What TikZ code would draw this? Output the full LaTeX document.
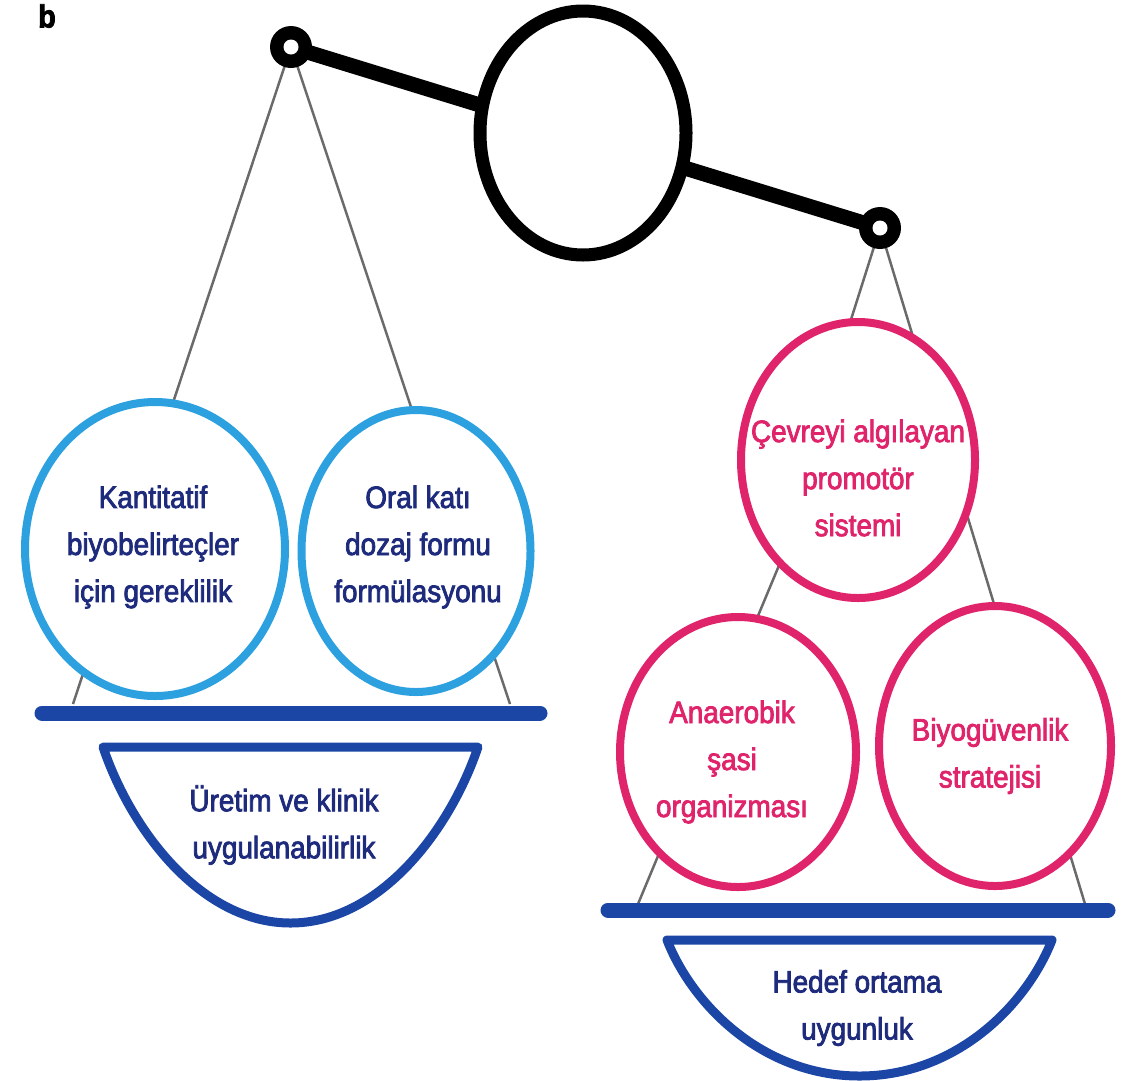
\documentclass[tikz,border=0pt]{standalone}
\usepackage{fontspec}
\setmainfont{Liberation Sans}[FakeStretch=0.9, FakeBold=2.5]
\usetikzlibrary{shapes.geometric}

\definecolor{cordgray}{HTML}{6A6A6A}
\definecolor{skyblue}{HTML}{2DA0DF}
\definecolor{rosepink}{HTML}{E0246B}
\definecolor{panblue}{HTML}{1C46A6}
\definecolor{navy}{HTML}{1E2A7C}

\newcommand\lbl{\fontsize{31}{47}\selectfont}

\tikzset{
  cord/.style={draw=cordgray, line width=2.5pt},
  ringouter/.style={circle, fill=black, inner sep=0pt},
  ringhole/.style={circle, fill=white, inner sep=0pt},
  bluebub/.style={ellipse, draw=skyblue, line width=8pt, fill=white, inner sep=0pt},
  pinkbub/.style={ellipse, draw=rosepink, line width=8pt, fill=white, inner sep=0pt},
  panbar/.style={draw=panblue, line width=15pt, line cap=round},
  bowl/.style={draw=panblue, line width=9pt, line join=round, fill=white},
  navytext/.style={text=navy, font=\lbl, align=center, inner sep=0pt},
  pinktext/.style={text=rosepink, font=\lbl, align=center, inner sep=0pt}
}

\begin{document}
\begin{tikzpicture}[x=1pt, y=-1pt]
\useasboundingbox (0,0) rectangle (1147,1080);

% panel letter
\node[font=\fontsize{32}{32}\selectfont\bfseries, anchor=center] (letter) at (47,16) {b};

% pivot points and cord ends
\coordinate (pl) at (291,47);
\coordinate (pr) at (880,228);
\coordinate (lcl) at (73,704);
\coordinate (lcr) at (510,704);
\coordinate (rtop) at (835,370);   % upper left cord ends inside the top bubble
\coordinate (rmid) at (800,515);   % lower left cord starts inside the top bubble
\coordinate (rcl) at (638,904);
\coordinate (rcr) at (1085,904);

% cords hanging from the pivots
\draw[cord] (pl) -- (lcl);
\draw[cord] (pl) -- (lcr);
\draw[cord] (pr) -- (rtop);
\draw[cord] (rmid) -- (rcl);
\draw[cord] (pr) -- (rcr);

% beam with the central ring
\draw[line width=15pt] (pl) -- (pr);
\node[ellipse, draw=black, line width=13pt, fill=white, inner sep=0pt,
      minimum width=206pt, minimum height=244pt] (hub) at (583,133) {};

% pivot rings
\node[ringouter, minimum size=42pt] (pivl) at (pl) {};
\node[ringhole, minimum size=15pt] (holel) at (pl) {};
\node[ringouter, minimum size=42pt] (pivr) at (pr) {};
\node[ringhole, minimum size=15pt] (holer) at (pr) {};

% left pan
\node[bluebub, minimum width=260pt, minimum height=294pt] (kant) at (155,549) {};
\node[bluebub, minimum width=229pt, minimum height=282pt] (oral) at (416,551) {};
\node[navytext] (kanttxt) at (153,547) {Kantitatif\\biyobelirteçler\\için gereklilik};
\node[navytext] (oraltxt) at (418,547) {Oral katı\\dozaj formu\\formülasyonu};

\coordinate (lbarl) at (42,713);
\coordinate (lbarr) at (540,713);
\draw[panbar] (lbarl) -- (lbarr);

\draw[bowl] (103,747) -- (478,747)
  .. controls (450,830) and (380,923) .. (290.5,923)
  .. controls (201,923) and (131,830) .. (103,747) -- cycle;
\node[navytext] (lbowltxt) at (284,825) {Üretim ve klinik\\uygulanabilirlik};

% right pan
\node[pinkbub, minimum width=234pt, minimum height=276pt] (cevre) at (858,460) {};
\node[pinkbub, minimum width=236pt, minimum height=270pt] (anae) at (738,752) {};
\node[pinkbub, minimum width=232pt, minimum height=280pt] (biyo) at (995,746) {};
\node[pinktext] (cevretxt) at (858,478) {Çevreyi algılayan\\promotör\\sistemi};
\node[pinktext] (anaetxt) at (732,762) {Anaerobik\\şasi\\organizması};
\node[pinktext] (biyotxt) at (990,756) {Biyogüvenlik\\stratejisi};

\coordinate (rbarl) at (608,910);
\coordinate (rbarr) at (1108,910);
\draw[panbar] (rbarl) -- (rbarr);

\draw[bowl] (667,940) -- (1052,940)
  .. controls (1027,1004) and (957,1076) .. (859.5,1076)
  .. controls (762,1076) and (692,1004) .. (667,940) -- cycle;
\node[navytext] (rbowltxt) at (857,1008) {Hedef ortama\\uygunluk};
\end{tikzpicture}
\end{document}
